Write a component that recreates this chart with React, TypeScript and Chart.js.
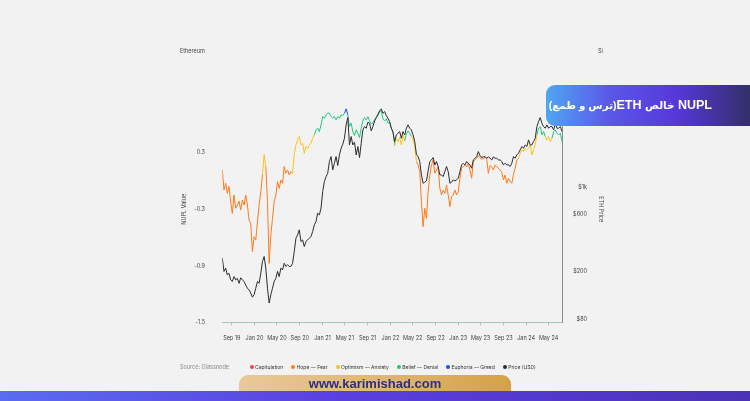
import React, { useEffect, useRef } from "react";
import { Chart, registerables } from "chart.js";

Chart.register(...registerables);

// ---- data ----
const START_DATE = "2019-07-12";
const STEP_DAYS = 9;
const DAY_MS = 86400000;

const nuplValues = [
  0.116, -0.096, -0.025, -0.131, -0.06, -0.22, -0.344, -0.149, -0.29, -0.255,
  -0.213, -0.308, -0.202, -0.255, -0.149, -0.255, -0.414, -0.45, -0.75, -0.591,
  -0.627, -0.432, -0.255, -0.114, 0.063, 0.28, 0.152, -0.22, -0.874, -0.574,
  -0.397, -0.22, -0.149, -0.007, -0.078, 0.01, -0.025, 0.152, 0.081, 0.116,
  0.063, 0.099, 0.081, 0.276, 0.382, 0.435, 0.47, 0.382, 0.399, 0.293,
  0.364, 0.346, 0.382, 0.399, 0.452, 0.488, 0.541, 0.559, 0.523, 0.594,
  0.682, 0.665, 0.7, 0.718, 0.718, 0.682, 0.665,
  0.682, 0.647, 0.682, 0.665, 0.7, 0.693, 0.718, 0.764, 0.7, 0.576,
  0.612, 0.523, 0.481, 0.541, 0.506, 0.459, 0.559, 0.636, 0.672, 0.647,
  0.682, 0.636, 0.601, 0.622, 0.647, 0.672, 0.693, 0.736, 0.743, 0.658,
  0.636, 0.658, 0.612, 0.622, 0.559, 0.523, 0.375, 0.452, 0.417, 0.459,
  0.382, 0.488, 0.424, 0.495, 0.53, 0.506, 0.47, 0.445, 0.364, 0.205,
  0.17, 0.099, -0.22, -0.485, -0.29, -0.397, -0.114, 0.063, 0.17, 0.222,
  0.081, 0.116, 0.152, -0.078, -0.149, -0.096, -0.131, -0.043,
  -0.149, -0.273, -0.167, -0.149, -0.096, -0.149, -0.114, 0.028, 0.134, 0.152,
  0.17, 0.152, 0.187, 0.116, 0.028, 0.205, 0.222, 0.24, 0.268, 0.247,
  0.233, 0.233, 0.254, 0.233, 0.081, 0.162, 0.152, 0.116, 0.17, 0.152,
  0.134, 0.116, 0.092, 0.01, 0.063, -0.025, 0.028, -0.007, -0.025, 0.07,
  0.134, 0.222, 0.24, 0.293, 0.329, 0.311, 0.346, 0.329, 0.346, 0.382,
  0.276, 0.329, 0.382, 0.488, 0.559, 0.576, 0.488, 0.523, 0.47, 0.435,
  0.47, 0.417, 0.452, 0.523, 0.541, 0.506, 0.488, 0.506, 0.417,
];

const priceValues = [
  258, 200, 213, 187, 193, 170, 165, 181, 170, 175,
  159, 177, 170, 165, 154, 145, 140, 132, 122, 128,
  145, 165, 159, 193, 242, 266, 213, 145, 109, 128,
  145, 165, 175, 200, 181, 213, 206, 234, 220, 227,
  220, 220, 234, 293, 378, 403, 444, 355, 366, 322,
  355, 366, 378, 391, 430, 489, 521, 611, 592, 673,
  926, 1122, 1235, 1317, 1648, 1813, 1404,
  1596, 1813, 1526, 1872, 2128, 2298, 2578, 3330, 3832, 2268,
  2662, 2268, 2388, 1872, 2197, 1779, 2342, 3025, 3225, 3123,
  3504, 3438, 2968, 3225, 3595, 3832, 4088, 4356, 4528, 4165,
  4300, 3982, 3784, 3550, 3123, 2892, 2418, 2748, 2838, 2930,
  2578, 2930, 2748, 3123, 3330, 3123, 3025, 2748, 2418, 1895,
  1813, 1648, 1276, 1087, 1108, 1137, 1378, 1648, 1701, 1779,
  1545, 1648, 1497, 1276, 1276, 1235, 1360, 1497,
  1360, 1087, 1108, 1159, 1137, 1159, 1197, 1360, 1545, 1596,
  1545, 1648, 1596, 1545, 1450, 1701, 1756, 1813, 1996, 1848,
  1778, 1801, 1813, 1756, 1801, 1756, 1701, 1801, 1756, 1756,
  1701, 1701, 1648, 1545, 1596, 1545, 1545, 1497, 1596, 1813,
  1756, 1872, 1933, 2061, 2197, 2128, 2268, 2197, 2497, 2268,
  2268, 2418, 2578, 3225, 3550, 3832, 3438, 3225, 3123, 3330,
  3123, 3225, 3225, 3025, 3438, 3123, 3123, 3225, 2930,
];

const xTickDates = [
  "2019-09-01", "2020-01-01", "2020-05-01", "2020-09-01", "2021-01-01",
  "2021-05-01", "2021-09-01", "2022-01-01", "2022-05-01", "2022-09-01",
  "2023-01-01", "2023-05-01", "2023-09-01", "2024-01-01", "2024-05-01",
];
const xTickLabels = [
  "Sep 19", "Jan 20", "May 20", "Sep 20", "Jan 21", "May 21", "Sep 21", "Jan 22",
  "May 22", "Sep 22", "Jan 23", "May 23", "Sep 23", "Jan 24", "May 24",
];
const nuplTickValues = [-1.5, -0.9, -0.3, 0.3];
const priceTickValues = [80, 200, 600, 1000];
const priceTickLabels = ["$80", "$200", "$600", "$1k"];

const legendLabels = [
  "Capitulation", "Hope — Fear", "Optimism — Anxiety", "Belief — Denial", "Euphoria — Greed", "Price (USD)",
];
const legendColors = ["#ff3b3b", "#ff7a1a", "#ffc21a", "#1fc97a", "#1f4bff", "#2c2c34"];
// lower bound of each NUPL colour zone on the drawn value axis
const zoneLowerBounds = [-Infinity, -1.5, 0.27, 0.49, 0.75];

const FONT = "Inter, 'Noto Sans', sans-serif";

function zoneColor(v: number) {
  let z = 0;
  for (let k = 0; k < zoneLowerBounds.length; k++) if (v >= zoneLowerBounds[k]) z = k;
  return legendColors[z];
}

export default function App() {
  const ref = useRef<HTMLCanvasElement>(null);

  useEffect(() => {
    const start = Date.parse(START_DATE);
    const xs = nuplValues.map((_, i) => start + i * STEP_DAYS * DAY_MS);
    const nuplData = nuplValues.map((v, i) => ({ x: xs[i], y: v }));
    const priceData = priceValues.map((v, i) => ({ x: xs[i], y: v }));
    Chart.defaults.font.family = FONT;

    const chart = new Chart(ref.current as HTMLCanvasElement, {
      type: "line",
      data: {
        datasets: [
          {
            label: legendLabels[5],
            data: priceData,
            yAxisID: "y1",
            borderColor: legendColors[5],
            borderWidth: 1,
            pointRadius: 0,
            tension: 0,
            order: 0,
          },
          {
            label: "NUPL",
            data: nuplData,
            yAxisID: "y",
            borderColor: legendColors[1],
            borderWidth: 1,
            pointRadius: 0,
            tension: 0,
            order: 1,
            segment: {
              borderColor: (ctx: any) => zoneColor(Math.max(ctx.p0.parsed.y, ctx.p1.parsed.y)),
            },
          },
        ],
      },
      options: {
        animation: false,
        responsive: false,
        devicePixelRatio: 1,
        layout: { padding: { left: 177.3, right: 163, top: 96, bottom: 58.5 } },
        plugins: { legend: { display: false }, tooltip: { enabled: false } },
        scales: {
          x: {
            type: "linear",
            min: xs[0],
            max: xs[xs.length - 1],
            afterBuildTicks: (s: any) => {
              s.ticks = xTickDates.map((d) => ({ value: Date.parse(d) }));
            },
            afterFit: (s: any) => {
              s.height = 20;
            },
            grid: { display: true, drawOnChartArea: false, drawTicks: true, tickLength: 3, color: "#a9c2c2" },
            border: { display: true, color: "#a9c2c2", width: 1 },
            ticks: {
              autoSkip: false,
              maxRotation: 0,
              padding: 10,
              color: "#444",
              font: { size: 5.5 },
              callback: (_v: any, i: number) => xTickLabels[i],
            },
          },
          y: {
            type: "linear",
            position: "left",
            min: -1.5,
            max: 0.9,
            afterBuildTicks: (s: any) => {
              s.ticks = nuplTickValues.map((v) => ({ value: v }));
            },
            afterFit: (s: any) => {
              s.width = 45;
            },
            grid: { display: false, drawTicks: false },
            border: { display: false },
            ticks: {
              padding: 17.3,
              color: "#444",
              font: { size: 5.5 },
              callback: (v: any) => String(v),
            },
            title: { display: true, text: "NUPL Value", color: "#444", font: { size: 5.5 }, padding: { top: 3.7, bottom: 0 } },
          },
          y1: {
            type: "logarithmic",
            position: "right",
            min: 75,
            max: 5800,
            afterBuildTicks: (s: any) => {
              s.ticks = priceTickValues.map((v) => ({ value: v }));
            },
            afterFit: (s: any) => {
              s.width = 25;
            },
            grid: { display: false, drawTicks: false },
            border: { display: true, color: "#8a8a8a", width: 1 },
            ticks: {
              crossAlign: "far",
              padding: 4,
              color: "#444",
              font: { size: 5.5 },
              callback: (_v: any, i: number) => priceTickLabels[i],
            },
            title: { display: true, text: "ETH Price", color: "#444", font: { size: 5.5 }, padding: { top: -17, bottom: 0 } },
          },
        },
      },
    });
    return () => chart.destroy();
  }, []);

  const small: React.CSSProperties = { position: "absolute", fontFamily: FONT, fontSize: 5.5, lineHeight: "8px", whiteSpace: "nowrap" };
  const ar: React.CSSProperties = { fontSize: 10.4 };

  return (
    <div style={{ position: "fixed", left: 0, top: 0, width: 750, height: 401, background: "#f2f2f2", overflow: "hidden" }}>
      <canvas ref={ref} width={750} height={401} style={{ position: "absolute", left: 0, top: 0, width: 750, height: 401 }} />
      <div style={{ ...small, left: 180, top: 47, color: "#444" }}>Ethereum</div>
      <div style={{ ...small, left: 598, top: 47, color: "#444" }}>Si</div>

      <div style={{ ...small, left: 180, top: 363, color: "#8a8a8a" }}>Source: Glassnode</div>
      <div style={{ position: "absolute", left: 249.7, top: 363, height: 8, display: "flex", alignItems: "center", gap: 8 }}>
        {legendLabels.map((l, i) => (
          <div key={l} style={{ display: "flex", alignItems: "center", fontFamily: FONT, fontSize: 5, color: "#333", whiteSpace: "nowrap" }}>
            <span style={{ width: 4, height: 4, borderRadius: 2, background: legendColors[i], marginRight: 1.4, display: "inline-block" }} />
            {l}
          </div>
        ))}
      </div>

      <div
        style={{
          position: "absolute", left: 546, top: 85, width: 220, height: 41, borderRadius: "9px 0 0 9px",
          background: "linear-gradient(90deg, #4fa6f2 0%, #5b55e8 30%, #5538d8 60%, #34306a 92%)",
        }}
      >
        <div
          dir="rtl"
          style={{
            position: "absolute", right: 54, top: 0, height: 41, lineHeight: "41px", color: "#fff", fontWeight: 700,
            fontSize: 12.5, fontFamily: "'Liberation Sans', 'DejaVu Sans', sans-serif", whiteSpace: "nowrap",
          }}
        >
          NUPL <span style={ar}>خالص</span> ETH<span style={ar}>(ترس و طمع)</span>
        </div>
      </div>

      <div style={{ position: "absolute", left: 0, top: 391, width: 750, height: 10, background: "linear-gradient(90deg, #5a6cf0 0%, #5a3fe0 45%, #4a32b8 100%)" }} />
      <div
        style={{
          position: "absolute", left: 239, top: 375, width: 272, height: 16, borderRadius: "9px 9px 0 0",
          background: "linear-gradient(90deg, #e8c998 0%, #dfb670 55%, #d4a245 100%)",
          textAlign: "center", lineHeight: "17px", color: "#2b2f84", fontWeight: 700, fontSize: 13,
          fontFamily: "'Liberation Sans', Arial, sans-serif",
        }}
      >
        www.karimishad.com
      </div>
    </div>
  );
}
